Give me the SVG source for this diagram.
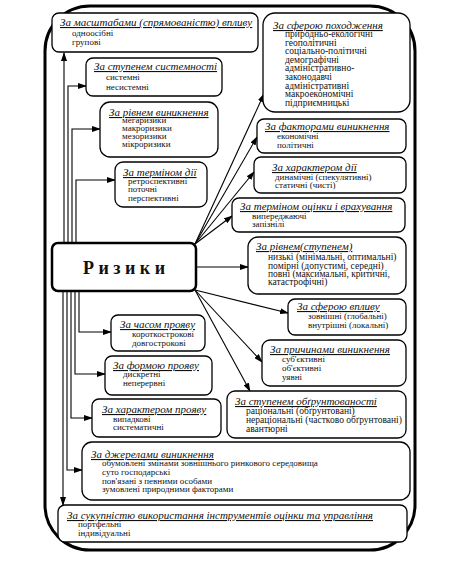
<svg xmlns="http://www.w3.org/2000/svg" width="455" height="563" viewBox="0 0 455 563">
<style>
.b{fill:#fff;stroke:#000;stroke-width:1.3}
.t{font-family:"Liberation Serif","Times New Roman",serif;font-size:11px;font-style:italic;text-decoration:underline;fill:#111}
.i{font-family:"Liberation Serif","Times New Roman",serif;font-size:9px;fill:#111}
.m{font-size:9.5px}
.c{fill:none;stroke:#000;stroke-width:1.1}
</style>
<defs>
<marker id="a" markerUnits="userSpaceOnUse" markerWidth="9" markerHeight="6" refX="8" refY="3" orient="auto">
<path d="M0,0 L9,3 L0,6 Z" fill="#000"/>
</marker>
</defs>
<rect x="45" y="6" width="370" height="544" rx="45" fill="#fff" stroke="#000" stroke-width="3"/>
<g id="connectors">
<path class="c" d="M64,243 V53" marker-end="url(#a)"/>
<path class="c" d="M68,243 V86 H86" marker-end="url(#a)"/>
<path class="c" d="M72,243 V129 H100" marker-end="url(#a)"/>
<path class="c" d="M76,243 V180 H115" marker-end="url(#a)"/>
<path class="c" d="M79,291 V332 H111" marker-end="url(#a)"/>
<path class="c" d="M75,291 V374 H105" marker-end="url(#a)"/>
<path class="c" d="M71,291 V418 H92" marker-end="url(#a)"/>
<path class="c" d="M67,291 V470 H82" marker-end="url(#a)"/>
<path class="c" d="M63,291 V505" marker-end="url(#a)"/>
<path class="c" d="M195,244 L264,94" marker-end="url(#a)"/>
<path class="c" d="M195,244 L257,137" marker-end="url(#a)"/>
<path class="c" d="M195,244 L254,172" marker-end="url(#a)"/>
<path class="c" d="M195,244 L232,216" marker-end="url(#a)"/>
<path class="c" d="M196,267 L248,267" marker-end="url(#a)"/>
<path class="c" d="M195,290 L288,313" marker-end="url(#a)"/>
<path class="c" d="M195,290 L262,362" marker-end="url(#a)"/>
<path class="c" d="M195,290 L250,391" marker-end="url(#a)"/>
</g>
<g id="n1"><rect class="b" x="52" y="13" width="206" height="39" rx="7"/>
<text class="t" x="60" y="26">За масштабами (спрямованістю) впливу</text>
<text class="i" x="72" y="36">одноосібні</text><text class="i" x="72" y="45">групові</text></g>
<g id="n2"><rect class="b" x="263" y="13" width="147" height="99" rx="12"/>
<text class="t" x="273" y="29">За сферою походження</text>
<text class="i m" x="285" y="37">природньо-екологічні</text>
<text class="i m" x="285" y="45.6">геополітичні</text>
<text class="i m" x="285" y="54.2">соціально-політичні</text>
<text class="i m" x="285" y="62.8">демографічні</text>
<text class="i m" x="285" y="71.4">адміністративно-</text>
<text class="i m" x="285" y="80">законодавчі</text>
<text class="i m" x="285" y="88.6">адміністративні</text>
<text class="i m" x="285" y="97.2">макроекономічні</text>
<text class="i m" x="285" y="105.8">підприємницькі</text></g>
<g id="n3"><rect class="b" x="86" y="58" width="136" height="38" rx="7"/>
<text class="t" x="94" y="70">За ступенем системності</text>
<text class="i" x="106" y="80">системні</text><text class="i" x="106" y="90">несистемні</text></g>
<g id="n4"><rect class="b" x="100" y="102" width="118" height="55" rx="10"/>
<text class="t" x="109" y="116">За рівнем виникнення</text>
<text class="i" x="122" y="123">мегаризики</text><text class="i" x="122" y="131">макроризики</text>
<text class="i" x="122" y="139">мезоризики</text><text class="i" x="122" y="147">мікроризики</text></g>
<g id="n5"><rect class="b" x="115" y="162" width="92" height="45" rx="8"/>
<text class="t" x="123" y="176">За терміном дії</text>
<text class="i" x="128" y="184">ретроспективні</text><text class="i" x="128" y="192">поточні</text>
<text class="i" x="128" y="201">перспективні</text></g>
<g id="n6"><rect class="b" x="257" y="119" width="149" height="34" rx="7"/>
<text class="t" x="265" y="130">За факторами виникнення</text>
<text class="i" x="277" y="139">економічні</text><text class="i" x="277" y="148">політичні</text></g>
<g id="n7"><rect class="b" x="254" y="157" width="152" height="36" rx="7"/>
<text class="t" x="272" y="171">За характером дії</text>
<text class="i" x="275" y="180">динамічні (спекулятивні)</text><text class="i" x="275" y="188">статичні (чисті)</text></g>
<g id="n8"><rect class="b" x="232" y="198" width="173" height="34" rx="7"/>
<text class="t" x="240" y="210">За терміном оцінки і врахування</text>
<text class="i" x="252" y="219">випереджаючі</text><text class="i" x="252" y="227">запізнілі</text></g>
<g id="n9"><rect class="b" x="248" y="237" width="158" height="57" rx="10"/>
<text class="t" x="256" y="250">За рівнем(ступенем)</text>
<text class="i m" x="268" y="260">низькі (мінімальні, оптимальні)</text>
<text class="i m" x="268" y="269">помірні (допустимі, середні)</text>
<text class="i m" x="268" y="277">повні (максимальні, критичні,</text>
<text class="i m" x="268" y="285">катастрофічні)</text></g>
<g id="n10"><rect class="b" x="288" y="299" width="118" height="36" rx="7"/>
<text class="t" x="297" y="310">За сферою впливу</text>
<text class="i" x="308" y="319">зовнішні (глобальні)</text><text class="i" x="308" y="328">внутрішні (локальні)</text></g>
<g id="n11"><rect class="b" x="262" y="340" width="144" height="46" rx="8"/>
<text class="t" x="270" y="353">За причинами виникнення</text>
<text class="i" x="282" y="362">суб'єктивні</text><text class="i" x="282" y="371">об'єктивні</text>
<text class="i" x="282" y="380">уявні</text></g>
<g id="n12"><rect class="b" x="227" y="391" width="179" height="47" rx="8"/>
<text class="t" x="235" y="405">За ступенем обґрунтованості</text>
<text class="i m" x="246" y="414">раціональні (обґрунтовані)</text>
<text class="i m" x="246" y="423">нераціональні (частково обґрунтовані)</text>
<text class="i m" x="246" y="432">авантюрні</text></g>
<g id="risk"><rect x="52" y="243" width="144" height="48" rx="6" fill="#fff" stroke="#000" stroke-width="2.5"/>
<text x="124" y="274" text-anchor="middle" font-family="Liberation Serif, Times New Roman, serif" font-size="18" font-weight="bold" fill="#111">Р и з и к и</text></g>
<g id="n14"><rect class="b" x="111" y="315" width="94" height="36" rx="7"/>
<text class="t" x="120" y="328">За часом прояву</text>
<text class="i" x="132" y="337">короткострокові</text><text class="i" x="132" y="346">довгострокові</text></g>
<g id="n15"><rect class="b" x="105" y="356" width="107" height="39" rx="7"/>
<text class="t" x="113" y="369">За формою прояву</text>
<text class="i" x="123" y="377">дискретні</text><text class="i" x="123" y="386">неперервні</text></g>
<g id="n16"><rect class="b" x="92" y="399" width="129" height="38" rx="7"/>
<text class="t" x="102" y="413">За характером прояву</text>
<text class="i" x="113" y="422">випадкові</text><text class="i" x="113" y="430">систематичні</text></g>
<g id="n17"><rect class="b" x="82" y="442" width="328" height="58" rx="10"/>
<text class="t" x="91" y="458">За джерелами виникнення</text>
<text class="i" x="102" y="466">обумовлені змінами зовнішнього ринкового середовища</text>
<text class="i" x="102" y="475">суто господарські</text>
<text class="i" x="102" y="484">пов'язані з певними особами</text>
<text class="i" x="102" y="492">зумовлені природними факторами</text></g>
<g id="n18"><rect class="b" x="58" y="505" width="349" height="37" rx="7"/>
<text class="t" x="67" y="519">За сукупністю використання інструментів оцінки та управління</text>
<text class="i" x="78" y="527">портфельні</text><text class="i" x="78" y="536">індивідуальні</text></g>
</svg>
